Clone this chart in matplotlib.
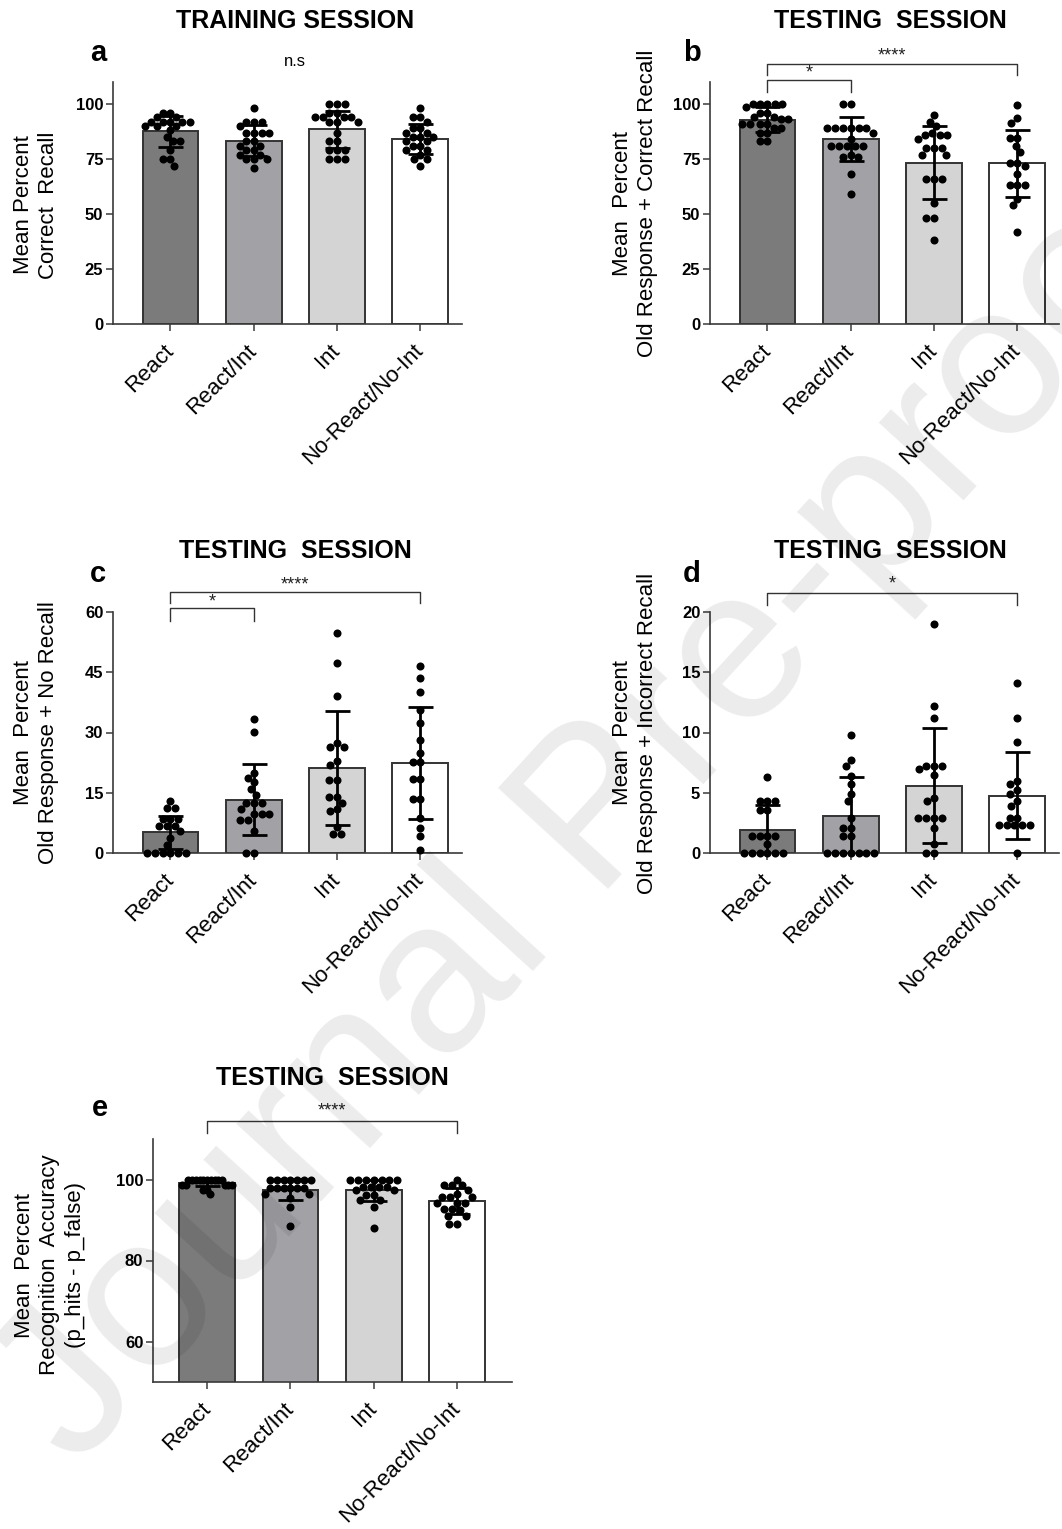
import numpy as np
import matplotlib
matplotlib.use('Agg')
import matplotlib.pyplot as plt

plt.rcParams['font.family'] = ['Liberation Sans', 'DejaVu Sans']

# --- Data ----------------------------------------------------------------------------------------
groups = ['React', 'React/Int', 'Int', 'No-React/No-Int']
bar_colors = ['#7b7b7b', '#a2a2a6', '#d4d4d4', '#ffffff']

# a. training session, correct recall
a_points = [
    [96, 96, 94, 94, 92, 92, 92, 92, 92, 90, 90, 90, 88, 85, 83, 83, 79, 75, 75, 72],
    [98, 92, 92, 92, 90, 87, 87, 87, 87, 83, 83, 81, 81, 79, 79, 77, 77, 75, 75, 75, 71],
    [100, 100, 100, 96, 96, 94, 94, 94, 94, 92, 92, 92, 87, 83, 83, 79, 79, 79, 75, 75, 75],
    [98, 94, 94, 92, 89, 89, 87, 87, 85, 85, 85, 83, 83, 81, 81, 79, 79, 77, 75, 75, 72],
]
a_mean = [87.6, 83.3, 88.6, 84.2]
a_sd = [7.1, 7.1, 8.4, 6.9]

# b. testing session, old response + correct recall
b_points = [
    [100, 100, 100, 100, 100, 98.5, 96, 96, 94, 94, 93, 93, 91, 91, 91, 91, 89, 89, 87, 87, 83, 83],
    [100, 100, 89, 89, 89, 89, 89, 89, 87, 84, 81, 81, 81, 81, 81, 77, 76, 76, 68, 59],
    [95, 92, 90, 87, 86, 86, 86, 84, 80, 80, 80, 77, 77, 66, 66, 66, 55, 48, 48, 38],
    [99.5, 93.6, 91.4, 84.5, 84.5, 81, 78, 73, 73, 72, 68, 63, 63, 63, 57, 54, 42],
]
b_mean = [92.9, 84.1, 73.3, 73.0]
b_sd = [5.7, 10.1, 16.5, 15.4]

# c. testing session, old response + no recall
c_points = [
    [12.9, 11.2, 11.2, 8.5, 8.5, 8.5, 6.8, 6.8, 6.8, 5.5, 3.8, 2.1, 0, 0, 0, 0, 0, 0],
    [33.3, 30.1, 19.9, 18.7, 17.7, 16, 14.5, 12.5, 12.5, 12.5, 11, 9.6, 9.6, 9.6, 8.3, 8.3, 5.5, 0, 0],
    [54.8, 47.2, 39.2, 27.4, 26.4, 26.4, 22.8, 22, 18.1, 18.1, 14, 14, 12.5, 11, 10.4, 6.5, 4.8, 4.8],
    [46.5, 43.5, 40, 35.6, 32.3, 28.2, 25, 22.6, 22.6, 18.3, 18.3, 13.5, 13.5, 8.8, 6.3, 4.2, 0.7],
]
c_mean = [5.2, 13.3, 21.1, 22.4]
c_sd = [4.1, 8.75, 14.15, 13.9]

# d. testing session, old response + incorrect recall
d_points = [
    [6.3, 4.3, 4.3, 4.3, 3.6, 3.6, 1.4, 1.4, 1.4, 1.4, 0.75, 0, 0, 0, 0, 0, 0],
    [9.8, 7.7, 7.2, 6.4, 5.7, 4.9, 4.3, 2.9, 2.1, 2.1, 1.4, 1.4, 0, 0, 0, 0, 0, 0, 0],
    [19, 12.2, 11.2, 7.2, 7.2, 7.2, 7.0, 6.5, 4.6, 4.3, 2.9, 2.9, 2.9, 2.9, 2.1, 0.75, 0, 0],
    [14.1, 11.2, 9.2, 6.0, 5.7, 5.2, 4.9, 4.3, 3.9, 2.9, 2.9, 2.3, 2.3, 2.3, 2.3, 2.3, 0],
]
d_mean = [1.93, 3.1, 5.6, 4.75]
d_sd = [2.07, 3.2, 4.8, 3.62]

# e. testing session, recognition accuracy
e_points = [
    [100, 100, 100, 100, 100, 100, 100, 100, 100, 100, 98.6, 98.6, 98.6, 98.6, 98.6, 97.5, 97.5, 96.3],
    [100, 100, 100, 100, 100, 100, 100, 98, 98, 98, 98, 98, 98, 96.5, 96.5, 95.5, 93.2, 88.6],
    [100, 100, 100, 100, 100, 100, 100, 98.2, 98.2, 98.2, 98.2, 97.5, 97.5, 96.1, 96.1, 94.9, 94.9,
     93.2, 88],
    [100, 98.6, 98.6, 98.6, 97.3, 96.5, 95.7, 95.7, 95.7, 94.3, 94.3, 94.3, 92.8, 92.8, 92.4, 91.1,
     91.1, 88.9, 88.9],
]
e_mean = [99.2, 97.5, 97.3, 94.7]
e_sd = [0.9, 2.6, 2.7, 3.25]

W, H = 1062, 1529
fig = plt.figure(figsize=(W / 100, H / 100), dpi=100)


def px_axes(left, top, right, bottom):
    """Axes placed from pixel edges (origin top-left)."""
    return fig.add_axes([left / W, 1 - bottom / H, (right - left) / W, (bottom - top) / H])


def swarm_x(ax, xc, vals, dot_px=7.8, max_half_px=25.0):
    # simple beeswarm: push each dot sideways until it no longer overlaps the placed ones,
    # then squeeze the group so it stays inside the bar
    to_px = ax.transData.transform
    px_per_x = to_px((1, 0))[0] - to_px((0, 0))[0]
    ys = np.array([to_px((0, v))[1] for v in vals])
    offs = np.zeros(len(vals))
    placed = []
    for i in np.argsort(-ys, kind='stable'):
        y = ys[i]
        blocked = []
        for px, py in placed:
            dy = y - py
            if abs(dy) < dot_px:
                half = np.sqrt(dot_px ** 2 - dy ** 2)
                blocked.append((px - half, px + half))
        cands = sorted([0.0] + [b[0] for b in blocked] + [b[1] for b in blocked], key=abs)
        for c in cands:
            if all(not (lo + 1e-6 < c < hi - 1e-6) for lo, hi in blocked):
                break
        placed.append((c, y))
        offs[i] = c
    widest = np.abs(offs).max()
    if widest > max_half_px:
        offs *= max_half_px / widest
    return xc + offs / px_per_x


def bar_panel(ax, points, means, sds, ylim, yticks, xlim):
    x = np.arange(len(groups))
    ax.set_xlim(*xlim)
    ax.set_ylim(*ylim)
    ax.bar(x, means, width=0.67, color=bar_colors, edgecolor='#333333', linewidth=1.4, zorder=2)
    for i, vals in enumerate(points):
        ax.plot(swarm_x(ax, i, vals), vals, 'o', color='black', ms=5.8, mew=0,
                zorder=3, clip_on=False)
    ax.errorbar(x, means, yerr=sds, fmt='none', ecolor='black', elinewidth=2.0,
                capsize=9, capthick=2.0, zorder=4)
    for side in ['top', 'right']:
        ax.spines[side].set_visible(False)
    for side in ['left', 'bottom']:
        ax.spines[side].set_color('#3a3a3a')
        ax.spines[side].set_linewidth(1.2)
    ax.set_yticks(yticks)
    ax.set_yticklabels([str(t) for t in yticks], fontsize=12, fontweight='bold')
    ax.set_xticks(x)
    ax.set_xticklabels(groups, fontsize=16, rotation=45, ha='right', va='center',
                       rotation_mode='anchor')
    ax.tick_params(axis='both', length=5, width=1.1, color='#3a3a3a')
    ax.tick_params(axis='x', pad=12)
    ax.tick_params(axis='y', pad=2)


def bracket(ax, x0, x1, y, leg0, leg1, label, text_y):
    ax.plot([x0, x0, x1, x1], [leg0, y, y, leg1], color='#333333', lw=1.0, clip_on=False)
    ax.text((x0 + x1) / 2, text_y, label, ha='center', va='center', fontsize=13,
            color='#222222', clip_on=False)


xlim_top = (-0.69, 3.5)

# --- a ---
ax_a = px_axes(113, 82, 462, 324)
bar_panel(ax_a, a_points, a_mean, a_sd, (0, 110), [0, 25, 50, 75, 100], xlim_top)
ax_a.text(1.5, 119.5, 'n.s', ha='center', va='center', fontsize=12, clip_on=False)

# --- b ---
ax_b = px_axes(710, 82, 1059, 324)
bar_panel(ax_b, b_points, b_mean, b_sd, (0, 110), [0, 25, 50, 75, 100], xlim_top)
bracket(ax_b, 0, 3, 118.0, 113.2, 113.2, '****', 121.8)
bracket(ax_b, 0, 1, 110.9, 105.6, 105.6, '*', 114.2)

# --- c ---
ax_c = px_axes(113, 612, 462, 853)
bar_panel(ax_c, c_points, c_mean, c_sd, (0, 60), [0, 15, 30, 45, 60], xlim_top)
bracket(ax_c, 0, 3, 64.9, 62.2, 62.2, '****', 66.8)
bracket(ax_c, 0, 1, 60.9, 57.8, 57.8, '*', 62.6)

# --- d ---
ax_d = px_axes(710, 612, 1059, 853)
bar_panel(ax_d, d_points, d_mean, d_sd, (0, 20), [0, 5, 10, 15, 20], xlim_top)
bracket(ax_d, 0, 3, 21.6, 20.6, 20.6, '*', 22.3)

# --- e ---
ax_e = px_axes(153, 1139, 512, 1382)
bar_panel(ax_e, e_points, e_mean, e_sd, (50, 110), [60, 80, 100], (-0.65, 3.66))
bracket(ax_e, 0, 3, 114.5, 111.5, 111.5, '****', 116.8)

# --- titles, panel letters, axis labels ---
title_kw = dict(ha='center', va='center', fontsize=18, fontweight='bold')
fig.text(295 / W, 1 - 21 / H, 'TRAINING SESSION', **title_kw)
fig.text(890 / W, 1 - 21 / H, 'TESTING  SESSION', **title_kw)
fig.text(295 / W, 1 - 551 / H, 'TESTING  SESSION', **title_kw)
fig.text(890 / W, 1 - 551 / H, 'TESTING  SESSION', **title_kw)
fig.text(332 / W, 1 - 1078 / H, 'TESTING  SESSION', **title_kw)

letter_kw = dict(ha='center', va='center', fontsize=21, fontweight='bold')
for lx, ly, letter in [(98, 53, 'a'), (692, 53, 'b'), (98, 574, 'c'), (692, 574, 'd'),
                       (100, 1108, 'e')]:
    fig.text(lx / W, 1 - ly / H, letter, **letter_kw)

ylab_kw = dict(ha='center', va='center', rotation=90, fontsize=16, linespacing=1.3,
               multialignment='center')
fig.text(36 / W, 1 - 205 / H, 'Mean Percent\nCorrect  Recall', **ylab_kw)
fig.text(635 / W, 1 - 203 / H, 'Mean  Percent\nOld Response + Correct Recall', **ylab_kw)
fig.text(36 / W, 1 - 733 / H, 'Mean  Percent\nOld Response + No Recall', **ylab_kw)
fig.text(635 / W, 1 - 733 / H, 'Mean  Percent\nOld Response + Incorrect Recall', **ylab_kw)
fig.text(50 / W, 1 - 1265 / H, 'Mean  Percent\nRecognition  Accuracy\n(p_hits - p_false)',
         **ylab_kw)

# journal watermark laid over everything
fig.text(600 / W, 1 - 815 / H, 'Journal Pre-proof', ha='center', va='center', rotation=47.5,
         fontsize=156, color='black', alpha=0.08, zorder=20)

fig.savefig('out.png', dpi=100)
